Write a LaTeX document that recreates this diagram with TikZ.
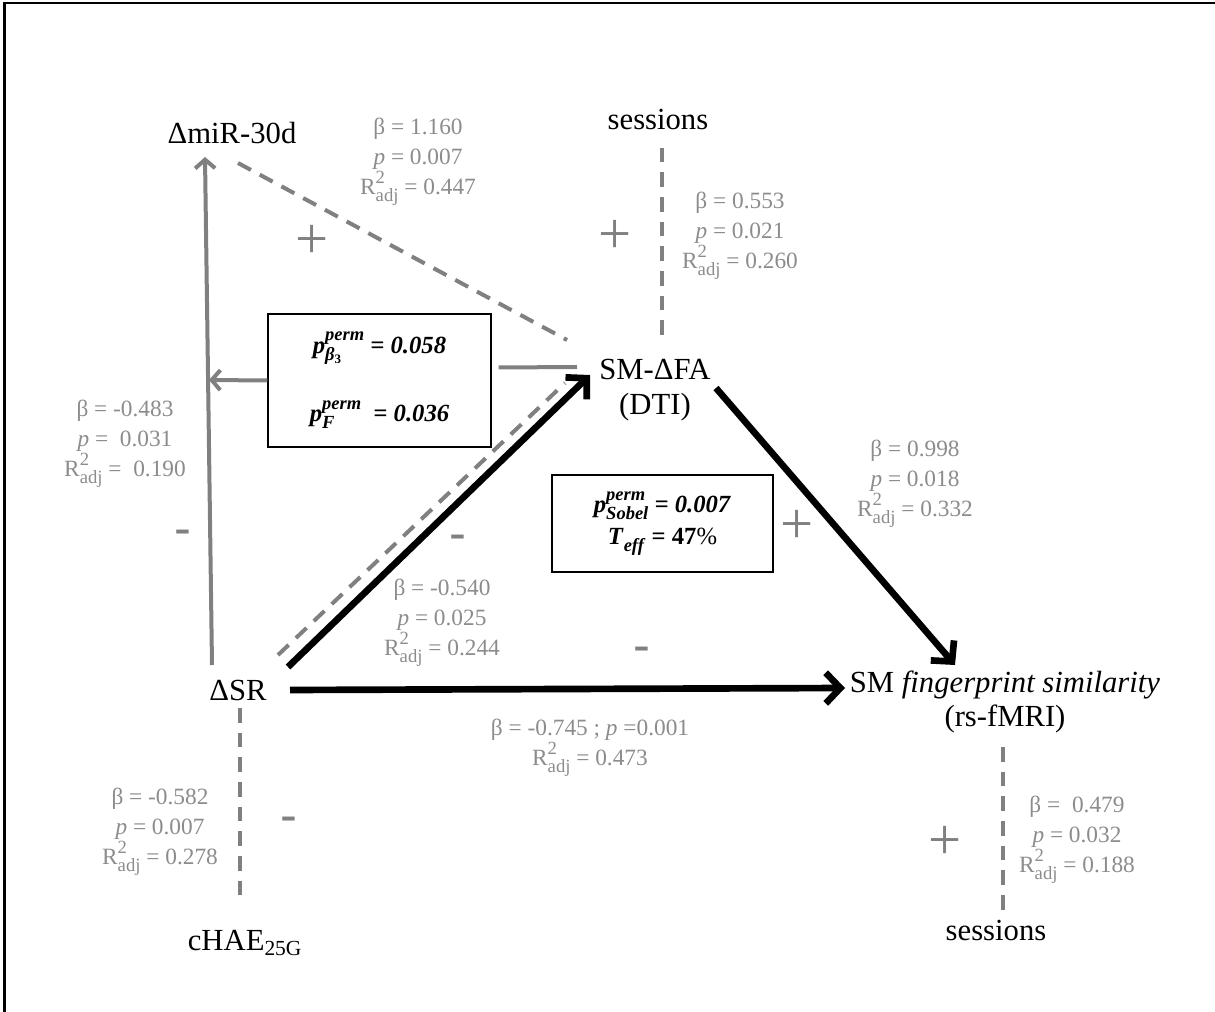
\documentclass[tikz,border=0pt]{standalone}
\usepackage{fontspec}
\usepackage{graphicx}
\setmainfont{Liberation Serif}
\newfontfamily\sansf{Liberation Sans}
\usetikzlibrary{arrows.meta,calc}
\definecolor{linegray}{RGB}{128,128,128}
\definecolor{statgray}{RGB}{140,140,140}
\newcommand{\supsubs}[3]{%
  \setbox1=\hbox{\scalebox{#1}{#2}}%
  \setbox2=\hbox{\scalebox{#1}{#3}}%
  \dimen0=\wd1 \ifdim\wd2>\dimen0 \dimen0=\wd2 \fi
  \hbox to \dimen0{\rlap{\raise0.5em\box1}\lower0.3em\box2\hfil}}
\newcommand{\supsub}[2]{\supsubs{0.75}{#1}{#2}}
\newcommand{\Radj}{R\supsubs{0.8}{2}{adj}}
\newcommand{\bi}[1]{\textbf{\textit{#1}}}
\begin{document}
\begin{tikzpicture}[x=0.75pt,y=-0.75pt,
  lbl/.style={font=\fontsize{23}{26}\selectfont, inner sep=0pt, align=center},
  stat/.style={text=statgray, font=\fontsize{17.5}{22.5}\selectfont, inner sep=0pt, align=center},
  plus/.style={text=linegray, font=\fontsize{44}{44}\selectfont, inner sep=0pt},
  minus/.style={text=linegray, font=\sansf\fontsize{38}{38}\selectfont, inner sep=0pt},
  gline/.style={draw=linegray, line width=3pt},
  gdash/.style={draw=linegray, line width=3pt, dash pattern=on 11pt off 7.5pt},
  garrow/.style={gline, -{Straight Barb[length=6.5pt,width=15pt]}},
  barrow/.style={draw=black, line width=5pt, -{Straight Barb[length=11pt,width=23pt]}},
  pbox/.style={draw=black, line width=1.2pt, inner sep=0pt, align=center, font=\fontsize{18.5}{22}\selectfont}
]
\useasboundingbox (0,0) rectangle (1215,1012);
\draw[line width=2pt] (4.5,1012) -- (4.5,3) -- (1215,3);

% main nodes
\node[lbl] (miR) at (232,133) {ΔmiR-30d};
\node[lbl] (sess1) at (658,120) {sessions};
\node[lbl] (fa) at (655,390) {SM-ΔFA\\(DTI)};
\node[lbl] (sr) at (238,690) {ΔSR};
\node[lbl] (fp) at (1005,702) {SM \textit{fingerprint similarity}\\(rs-fMRI)};
\node[lbl] (sess2) at (996,930) {sessions};
\node[lbl] (chae) at (245,943) {cHAE\textsubscript{25G}};

% boxes
\node[pbox, minimum width=167pt, minimum height=100pt] (b1) at (379.5,380.5)
  {\bi{p}\supsub{\bi{perm}}{\bi{β}\textsubscript{\textbf{3}}}\bi{ = 0.058}\\[26pt]
   \bi{p}\supsub{\bi{perm}}{\bi{F}}\ \bi{ = 0.036}};
\node[pbox, minimum width=165.75pt, minimum height=72.75pt] (b3) at (662.5,523.5)
  {\bi{p}\supsub{\bi{perm}}{\bi{Sobel}}\bi{ = 0.007}\\[2pt]
   \bi{T}\supsub{}{\bi{eff}}\textbf{ = 47}\%};

% connectors
\coordinate (hit) at ($(sr)+(-29,-310)$);
\draw[garrow] ($(sr)+(-26,-25)$) -- ($(miR)+(-27,24)$);
\draw[garrow] (b1.west) -- (hit);
\draw[gline] ($(b1.east)+(7,-13)$) -- ($(fa)+(-78,-23)$);
\draw[gdash] ($(miR)+(6,30)$) -- ($(fa)+(-88,-50)$);
\draw[gdash] ($(sr)+(40,-35)$) -- ($(fa)+(-90,-7)$);
\draw[gdash] ($(fa)+(7,-55)$) -- ($(sess1)+(4,22)$);
\draw[gdash] ($(fp)+(-2,45)$) -- ($(sess2)+(7,-17)$);
\draw[gdash] ($(sr)+(2,18)$) -- ($(chae)+(-5,-40)$);
\draw[barrow] ($(sr)+(50,-23)$) -- ($(fa)+(-65,-15)$);
\draw[barrow] ($(fa)+(61,-2)$) -- ($(fp)+(-50,-37)$);
\draw[barrow] ($(sr)+(52,0)$) -- ($(fp)+(-160,-14)$);

% stats
\node[stat] (s1) at (418,162) {β = 1.160\\\textit{p} = 0.007\\\Radj{} = 0.447};
\node[stat] (s2) at (740,236) {β = 0.553\\\textit{p} = 0.021\\\Radj{} = 0.260};
\node[stat] (s3) at (125,444) {β = -0.483\\\textit{p} =\ \ 0.031\\\Radj{} =\ \ 0.190};
\node[stat] (s4) at (442,623) {β = -0.540\\\textit{p} = 0.025\\\Radj{} = 0.244};
\node[stat] (s5) at (915,484) {β = 0.998\\\textit{p} = 0.018\\\Radj{} = 0.332};
\node[stat] (s6) at (590,748) {β = -0.745 ; \textit{p} =0.001\\\Radj{} = 0.473};
\node[stat] (s7) at (160,832) {β = -0.582\\\textit{p} = 0.007\\\Radj{} = 0.278};
\node[stat] (s8) at (1077,840) {β =\ \ 0.479\\\textit{p} = 0.032\\\Radj{} = 0.188};

% signs
\node[plus] (pl1) at (312,242) {+};
\node[plus] (pl2) at (615,237) {+};
\node[plus] (pl3) at (797,527) {+};
\node[plus] (pl4) at (945,843) {+};
\node[minus] (mi1) at (183,538) {-};
\node[minus] (mi2) at (458,543) {-};
\node[minus] (mi3) at (642,655) {-};
\node[minus] (mi4) at (289,825) {-};
\end{tikzpicture}
\end{document}
